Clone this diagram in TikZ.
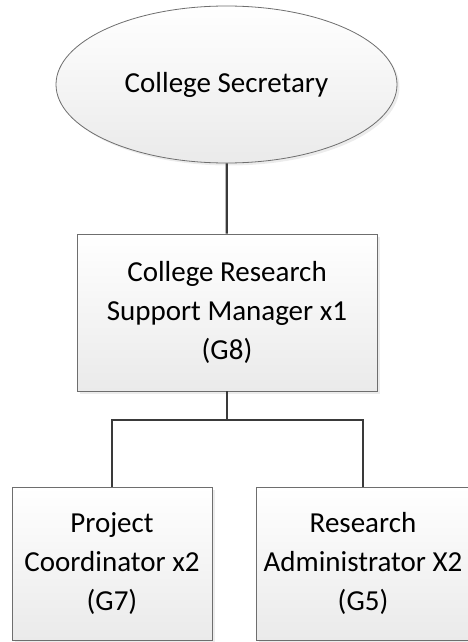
\documentclass[tikz,border=0pt]{standalone}
\usepackage{fontspec}
\setmainfont{Carlito}
\usetikzlibrary{shapes.geometric,shadows}
\definecolor{edgegray}{HTML}{6E6E6E}
\definecolor{linkgray}{HTML}{3A3A3A}
\definecolor{shadegray}{HTML}{EAEAEA}
\tikzset{
	post/.style={draw=edgegray, line width=0.8pt, top color=white, bottom color=shadegray,
		drop shadow={opacity=0.15, shadow xshift=2.5pt, shadow yshift=-2.5pt},
		align=center, inner sep=0pt, font=\fontsize{29}{39}\selectfont},
	link/.style={draw=linkgray, line width=2.2pt}
}
\begin{document}
\begin{tikzpicture}[x=1pt,y=-1pt]

		\useasboundingbox (0,0) rectangle (467,642);
		
		\node[post, ellipse, minimum width=341pt, minimum height=157pt] (sec) at (226.5,84.5) {College Secretary};
		\node[post, minimum width=300pt, minimum height=157pt] (mgr) at (227,312.5) {College Research\\Support Manager x1\\(G8)};
		
		\node[post, minimum width=200pt, minimum height=153pt] (pc) at (112,563.5) {Project\\Coordinator x2\\(G7)};
		\node[post, minimum width=214pt, minimum height=153pt] (ra) at (363,563.5) {Research\\Administrator X2\\(G5)};
		
		\coordinate (split) at (227,420);
		
		\draw[link] (sec) -- (mgr);
		\draw[link] (mgr) -- (split);
		\draw[link] (split) -| (pc);
		\draw[link] (split) -| (ra);
		
	\end{tikzpicture}
\end{document}
